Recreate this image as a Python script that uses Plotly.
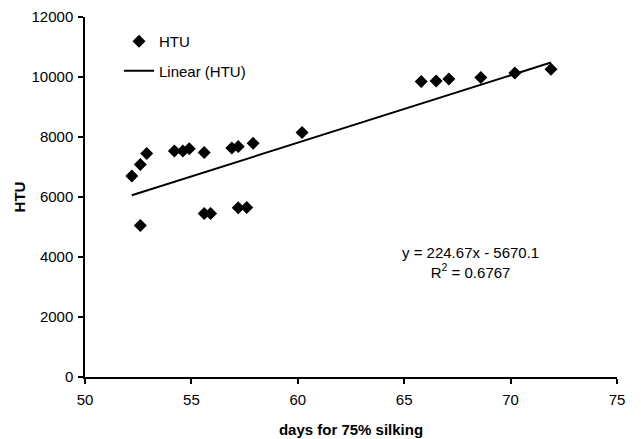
import plotly.graph_objects as go

# Days to 75% silking and heat units (HTU) per entry
days = [52.2, 52.6, 52.9, 52.6, 54.2, 54.6, 54.9, 55.6, 55.6, 55.9,
        56.9, 57.2, 57.9, 60.2, 57.2, 57.6,
        65.8, 66.5, 67.1, 68.6, 70.2, 71.9]
htu = [6700, 7080, 7450, 5050, 7530, 7530, 7610, 7480, 5450, 5450,
       7630, 7680, 7790, 8150, 5640, 5650,
       9850, 9870, 9930, 9980, 10130, 10260]

# Linear trendline coefficients and fit quality
slope = 224.67
intercept = -5670.1
r_squared = 0.6767

x_ticks = [50, 55, 60, 65, 70, 75]
y_ticks = [0, 2000, 4000, 6000, 8000, 10000, 12000]

FONT = "Liberation Sans, Arial, sans-serif"
FS = 15

# plot-area pixel frame used to place the legend and equation text
L, R, T, B = 85, 617, 17, 377


def px_x(p):
    return (p - L) / (R - L)


def px_y(p):
    return (B - p) / (B - T)


x_fit = [min(days), max(days)]
y_fit = [slope * x + intercept for x in x_fit]

fig = go.Figure()
fig.add_trace(go.Scatter(
    x=days, y=htu, mode="markers", name="HTU",
    marker=dict(symbol="diamond", size=10, color="black"),
    legendgroup="a",
))
fig.add_trace(go.Scatter(
    x=x_fit, y=y_fit, mode="lines", name="Linear (HTU)",
    line=dict(color="black", width=2),
    legendgroup="b",
))

fig.add_annotation(
    xref="paper", yref="paper", x=px_x(541), y=px_y(283),
    text=f"y = {slope}x - {abs(intercept)}<br>R<sup>2</sup> = {r_squared}",
    showarrow=False, align="center",
    font=dict(family=FONT, size=FS, color="black"),
)

fig.update_layout(
    width=641, height=439,
    margin=dict(l=L, r=641 - R, t=T, b=439 - B),
    paper_bgcolor="white", plot_bgcolor="white",
    font=dict(family=FONT, size=FS, color="black"),
    showlegend=True,
    legend=dict(
        x=px_x(119), y=px_y(25),
        xanchor="left", yanchor="top",
        bgcolor="rgba(0,0,0,0)",
        tracegroupgap=7,
        font=dict(family=FONT, size=FS, color="black"),
    ),
    xaxis=dict(
        range=[50, 75], tickvals=x_ticks, ticktext=[str(v) for v in x_ticks],
        showline=True, linecolor="black", linewidth=1.5,
        ticks="outside", ticklen=5, tickwidth=1.5, tickcolor="black",
        ticklabelstandoff=3, automargin=False,
        showgrid=False, zeroline=False,
        title=dict(text="<b>days for 75% silking</b>", standoff=18,
                   font=dict(family=FONT, size=FS)),
        tickfont=dict(family=FONT, size=FS),
    ),
    yaxis=dict(
        range=[0, 12000], tickvals=y_ticks, ticktext=[str(v) for v in y_ticks],
        showline=True, linecolor="black", linewidth=1.5,
        ticks="outside", ticklen=5, tickwidth=1.5, tickcolor="black",
        ticklabelstandoff=2, automargin=False,
        showgrid=False, zeroline=False,
        title=dict(text="<b>HTU</b>", standoff=2,
                   font=dict(family=FONT, size=FS)),
        tickfont=dict(family=FONT, size=FS),
    ),
)

fig.write_html("out.html")
